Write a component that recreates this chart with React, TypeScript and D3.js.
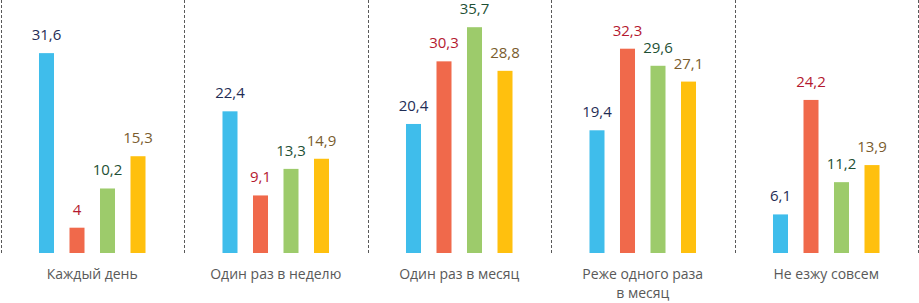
import React from "react";
import * as d3 from "d3";

const categories = [
  ["Каждый день"],
  ["Один раз в неделю"],
  ["Один раз в месяц"],
  ["Реже одного раза", "в месяц"],
  ["Не езжу совсем"],
];
const seriesNames = ["s1", "s2", "s3", "s4"];
const s1 = [31.6, 22.4, 20.4, 19.4, 6.1];
const s2 = [4, 9.1, 30.3, 32.3, 24.2];
const s3 = [10.2, 13.3, 35.7, 29.6, 11.2];
const s4 = [15.3, 14.9, 28.8, 27.1, 13.9];
const seriesValues = [s1, s2, s3, s4];
const barColors = ["#3FBDEB", "#F0694B", "#9DCB6B", "#FFC00E"];
const labelColors = ["#1F2D55", "#B4182F", "#1E5035", "#7A5C2E"];

const W = 919;
const H = 303;
const left = 0.5;
const right = 918;
const baseY = 253;
const fmt = (v: number) => String(v).replace(".", ",");

export default function App() {
  const x0 = d3
    .scaleBand<number>()
    .domain(categories.map((_, i) => i))
    .range([left, right])
    .padding(0);
  const x1 = d3
    .scaleBand<string>()
    .domain(seriesNames)
    .range([0, x0.bandwidth()])
    .paddingInner(0.508)
    .paddingOuter(1.262);
  const y = d3.scaleLinear().domain([0, 40]).range([baseY, 0]);

  const dividers = categories.map((_, i) => x0(i)!).concat([x0(categories.length - 1)! + x0.bandwidth()]);

  return (
    <svg
      width={W}
      height={H}
      style={{ position: "absolute", left: 0, top: 0, fontFamily: "'Open Sans', sans-serif" }}
    >
      <rect width={W} height={H} fill="#ffffff" />
      {dividers.map((d, i) => (
        <line
          key={"d" + i}
          x1={Math.round(d) + 0.5}
          x2={Math.round(d) + 0.5}
          y1={0}
          y2={baseY}
          stroke="#595959"
          strokeWidth={1}
          strokeDasharray="3,2"
        />
      ))}
      {categories.map((cat, ci) => (
        <g key={"g" + ci} transform={`translate(${x0(ci)},0)`}>
          {seriesNames.map((s, si) => {
            const v = seriesValues[si][ci];
            const bx = x1(s)!;
            return (
              <g key={s}>
                <rect
                  x={bx}
                  y={y(v)}
                  width={x1.bandwidth()}
                  height={baseY - y(v)}
                  fill={barColors[si]}
                />
                <text
                  x={bx + x1.bandwidth() / 2}
                  y={y(v) - 13}
                  textAnchor="middle"
                  fontSize={15}
                  fill={labelColors[si]}
                >
                  {fmt(v)}
                </text>
              </g>
            );
          })}
          {cat.map((line, li) => (
            <text
              key={li}
              x={x0.bandwidth() / 2}
              y={279 + li * 19}
              textAnchor="middle"
              fontSize={14}
              fill="#595959"
            >
              {line}
            </text>
          ))}
        </g>
      ))}
    </svg>
  );
}
